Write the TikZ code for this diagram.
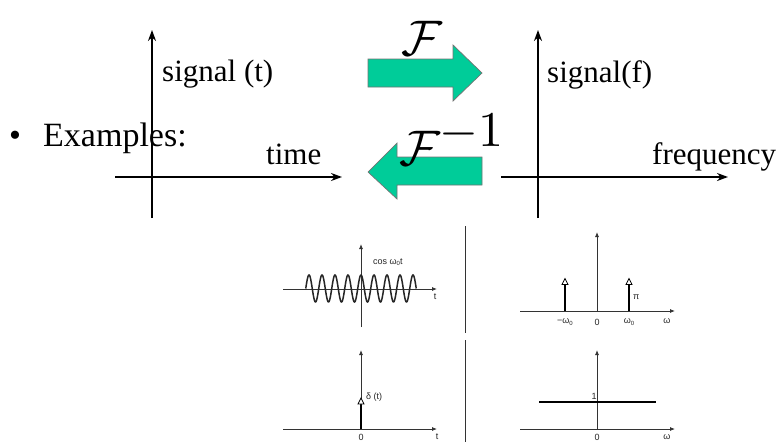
\documentclass[tikz,border=0pt]{standalone}
\usepackage{fontspec}
\newfontfamily\tnr{Liberation Serif}
\newfontfamily\arl{Liberation Sans}
\usetikzlibrary{arrows.meta}
\definecolor{teal1}{HTML}{00CC99}
\tikzset{
  bigtxt/.style={font=\tnr\fontsize{31}{36}\selectfont, inner sep=0pt, anchor=base west},
  bullettxt/.style={font=\tnr\fontsize{34}{40}\selectfont, inner sep=0pt, anchor=base west},
  caltxt/.style={font=\fontsize{10}{12}\selectfont, scale=5, inner sep=0pt, anchor=base west},
  bigaxis/.style={line width=2pt, -{Stealth[length=11pt,width=8pt]}},
  fatarrow/.style={fill=teal1, draw=black!55, line width=0.7pt},
  smallaxis/.style={line width=0.8pt, draw=black!80, -{Latex[length=5pt,width=4pt]}},
  smalltxt/.style={font=\arl\fontsize{9}{10}\selectfont, inner sep=0pt, text=black!85},
  impulse/.style={line width=1.8pt},
  imphead/.style={fill=white, draw=black, line width=0.7pt},
  divider/.style={line width=1pt, draw=black!80}
}
\begin{document}
\begin{tikzpicture}[x=1pt,y=-1pt]
\useasboundingbox (0,0) rectangle (782,442);
\fill[white] (0,0) rectangle (782,442);

% ---------- large axes, left ----------
\coordinate (lvb) at (152,218);
\coordinate (lvt) at (152,30);
\coordinate (lhl) at (115,177);
\coordinate (lhr) at (342,177);
\node[bullettxt] (bul) at (9,146) {\textbullet};
\node[bullettxt] (ex) at (43,146) {Examples:};
\draw[bigaxis] (lvb) -- (lvt);
\draw[bigaxis] (lhl) -- (lhr);
\node[bigtxt] (sigt) at (162,81) {signal (t)};
\node[bigtxt] (time) at (266,164) {time};

% ---------- large axes, right ----------
\coordinate (rvb) at (538,218);
\coordinate (rvt) at (538,30);
\coordinate (rhl) at (501,177);
\coordinate (rhr) at (728,177);
\draw[bigaxis] (rvb) -- (rvt);
\draw[bigaxis] (rhl) -- (rhr);
\node[bigtxt] (sigf) at (547,82) {signal(f)};
\node[bigtxt] (freq) at (652,164) {frequency};

% ---------- transform arrows ----------
\draw[fatarrow] (368,59) -- (453,59) -- (453,45) -- (482,73) -- (453,101) -- (453,87) -- (368,87) -- cycle;
\node[caltxt] (F) at (400,55) {$\mathcal{F}$};
\draw[fatarrow] (368,172) -- (397,143) -- (397,157) -- (482,157) -- (482,185) -- (397,185) -- (397,199) -- cycle;
\node[caltxt] (Finv) at (398,165) {$\mathcal{F}^{\textstyle -1}$};

% ---------- dividers ----------
\coordinate (d1t) at (465,226);
\coordinate (d1b) at (465,333);
\coordinate (d2t) at (465,340);
\coordinate (d2b) at (465,442);
\draw[divider] (d1t) -- (d1b);
\draw[divider] (d2t) -- (d2b);

% ---------- plot 1: cosine ----------
\coordinate (p1l) at (283,289);
\coordinate (p1r) at (437,289);
\coordinate (p1b) at (361,327);
\coordinate (p1t) at (361,244);
\draw[smallaxis] (p1l) -- (p1r);
\draw[smallaxis] (p1b) -- (p1t);
\draw[line width=1.5pt, black!85, domain=-4.25:4.25, samples=300, variable=\t]
  plot ({361+13*\t}, {288.5-13.5*cos(360*\t)});
\node[smalltxt, anchor=west] (cosl) at (373,262) {cos ω\raisebox{-1.5pt}{\fontsize{6}{7}\selectfont 0}t};
\node[smalltxt] (t1) at (435,297) {t};

% ---------- plot 2: spectrum of cosine ----------
\coordinate (p2l) at (520,311);
\coordinate (p2r) at (675,311);
\coordinate (p2b) at (597,311);
\coordinate (p2t) at (597,232);
\draw[smallaxis] (p2l) -- (p2r);
\draw[smallaxis] (p2b) -- (p2t);
\coordinate (i1b) at (565,311);
\coordinate (i1t) at (565,284);
\coordinate (i2b) at (629,311);
\coordinate (i2t) at (629,284);
\draw[impulse] (i1b) -- (i1t);
\draw[impulse] (i2b) -- (i2t);
\draw[imphead] (562,284.5) -- (568,284.5) -- (565,278.5) -- cycle;
\draw[imphead] (626,284.5) -- (632,284.5) -- (629,278.5) -- cycle;
\node[smalltxt, anchor=west] (pi) at (633,297) {π};
\node[smalltxt] (mw0) at (565,322) {−ω\raisebox{-1.5pt}{\fontsize{6}{7}\selectfont 0}};
\node[smalltxt] (z2) at (597,322) {0};
\node[smalltxt] (w0) at (629,322) {ω\raisebox{-1.5pt}{\fontsize{6}{7}\selectfont 0}};
\node[smalltxt] (w2) at (667,321) {ω};

% ---------- plot 3: delta ----------
\coordinate (p3l) at (283,429);
\coordinate (p3r) at (437,429);
\coordinate (p3b) at (361,429);
\coordinate (p3t) at (361,350);
\draw[smallaxis] (p3l) -- (p3r);
\draw[smallaxis] (p3b) -- (p3t);
\coordinate (i3b) at (361,429);
\coordinate (i3t) at (361,403.5);
\draw[impulse] (i3b) -- (i3t);
\draw[imphead] (358,404) -- (364,404) -- (361,398) -- cycle;
\node[smalltxt, anchor=west] (del) at (366,397) {δ (t)};
\node[smalltxt] (z3) at (361,437) {0};
\node[smalltxt] (t3) at (437,437) {t};

% ---------- plot 4: constant ----------
\coordinate (p4l) at (520,429);
\coordinate (p4r) at (675,429);
\coordinate (p4b) at (597,429);
\coordinate (p4t) at (597,350);
\draw[smallaxis] (p4l) -- (p4r);
\draw[smallaxis] (p4b) -- (p4t);
\coordinate (cl) at (539,402);
\coordinate (cr) at (656,402);
\draw[impulse] (cl) -- (cr);
\node[smalltxt] (one) at (594,396) {1};
\node[smalltxt] (z4) at (597,437) {0};
\node[smalltxt] (w4) at (667,437) {ω};
\end{tikzpicture}
\end{document}
